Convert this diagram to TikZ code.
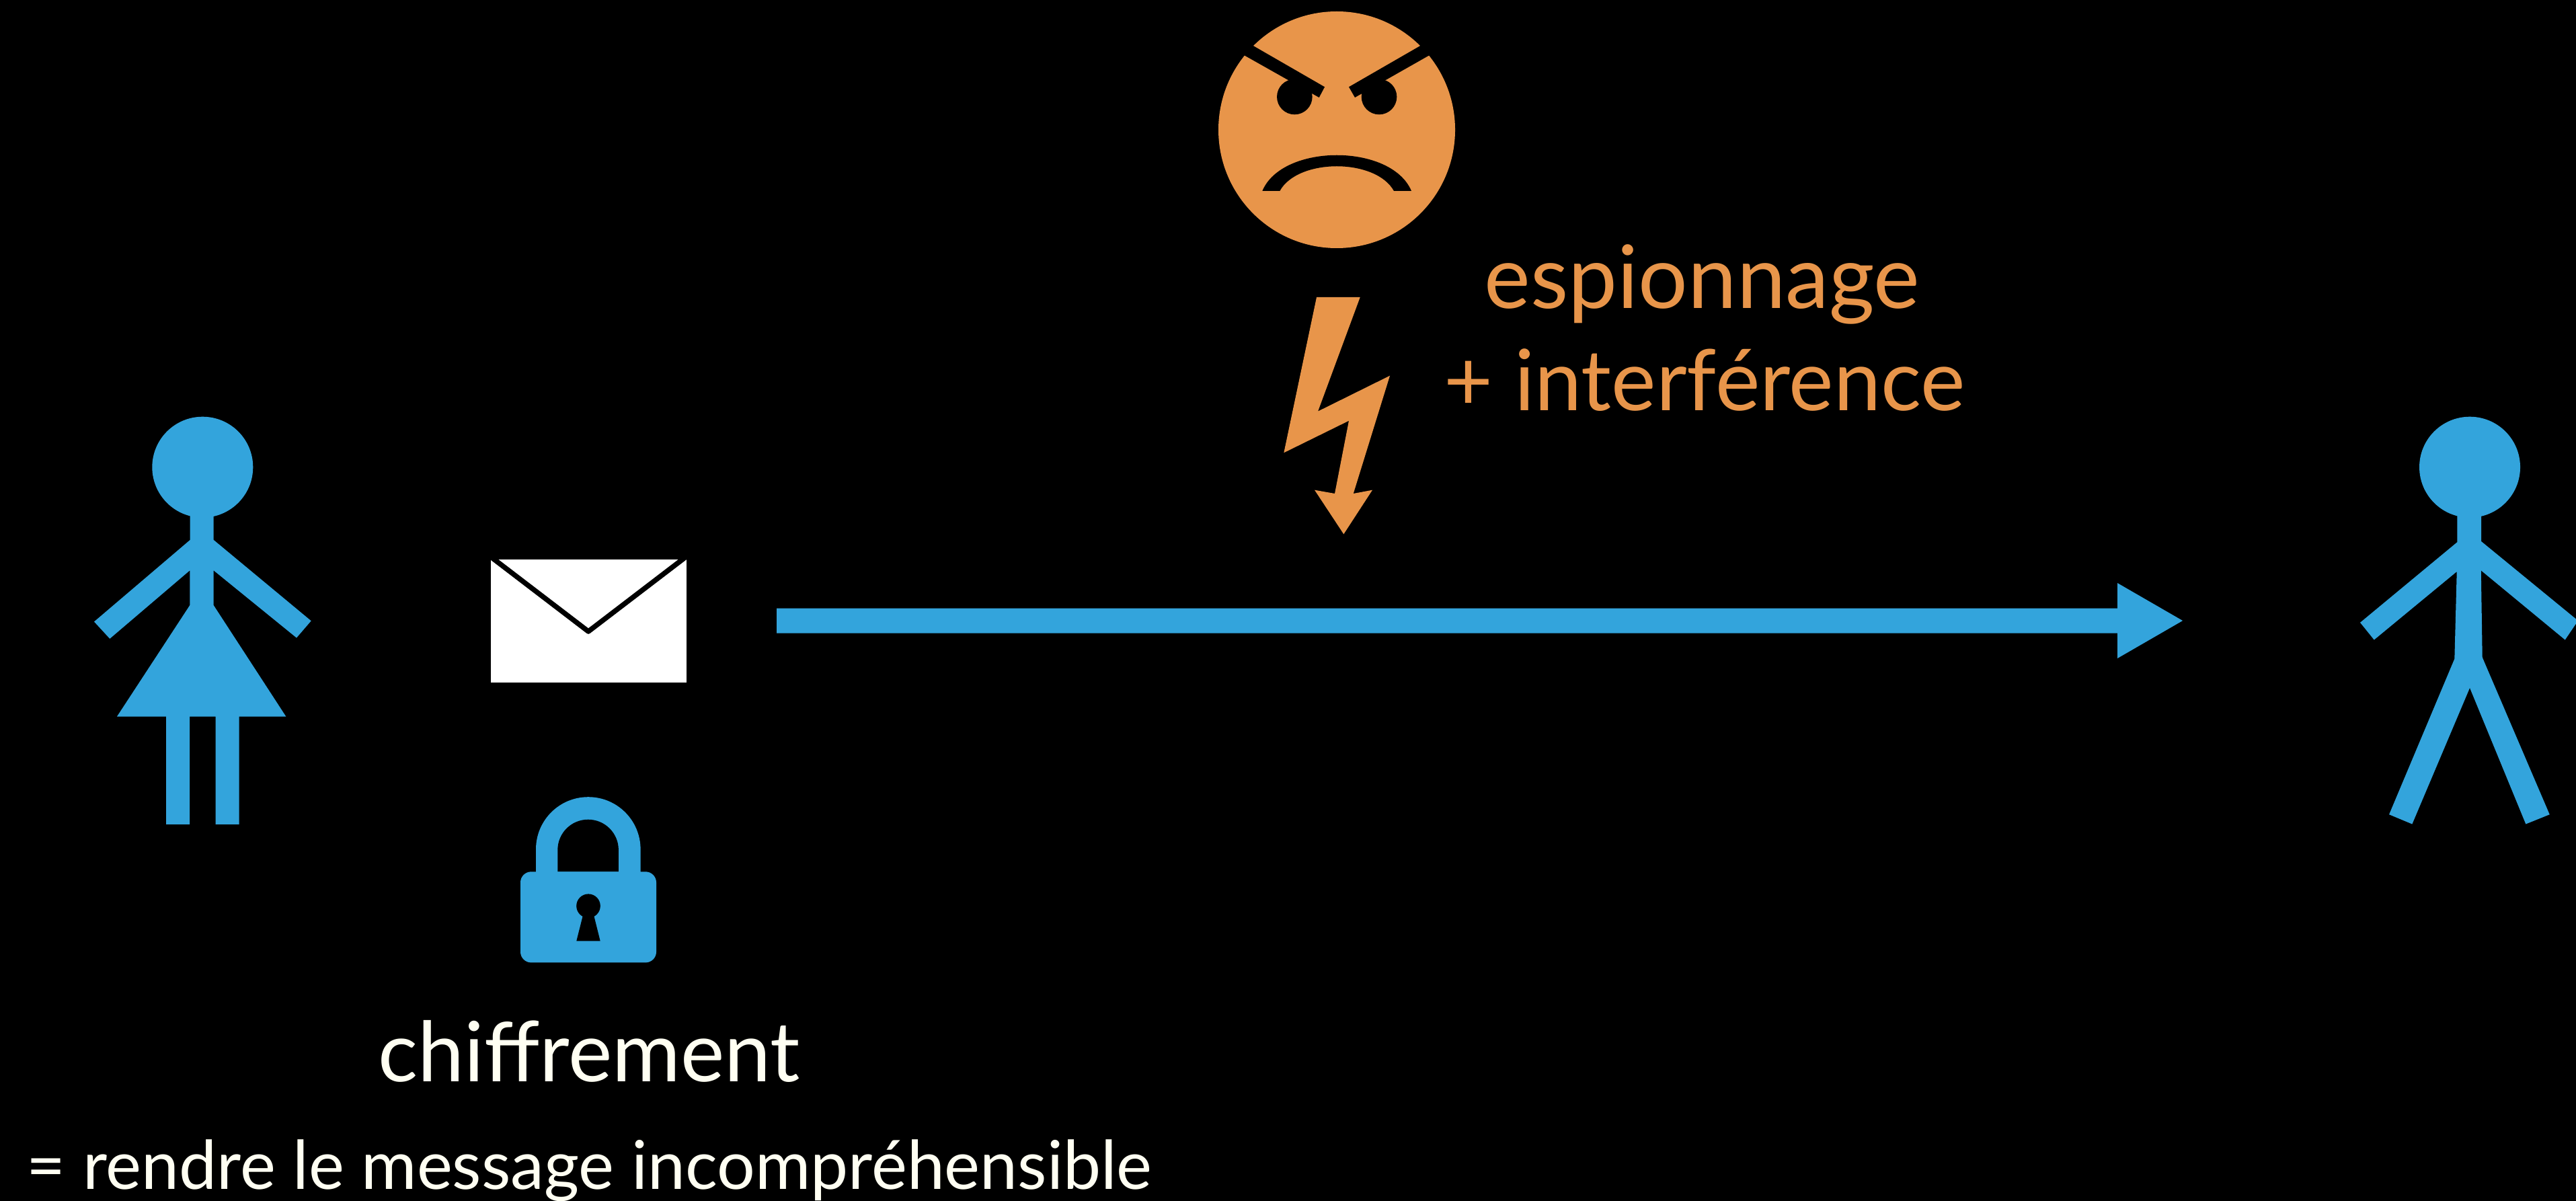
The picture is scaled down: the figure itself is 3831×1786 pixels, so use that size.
\documentclass[tikz,border=0pt]{standalone}
\usepackage{fontspec}
\setmainfont{Lato}
\usepackage{xcolor}
\definecolor{persongold}{HTML}{E8954A}
\definecolor{personblue}{HTML}{33A4DC}
\definecolor{cream}{HTML}{FFFFF2}
\usetikzlibrary{arrows.meta,positioning,calc}

\begin{document}
\begin{tikzpicture}[
        x=0.1mm, y=-0.1mm,
        person/.style = {fill=personblue},
        villain/.style = {fill=persongold},
        cut/.style = {fill=black},
        envelope/.style = {fill=white, inner sep=0pt, minimum width=29.1mm, minimum height=18.3mm},
        threat/.style = {text=persongold, inner sep=0pt, anchor=base, font=\fontsize{37}{37}\selectfont},
        caption/.style = {text=cream, inner sep=0pt, anchor=base, font=\fontsize{35.2}{35.2}\selectfont},
        gloss/.style = {text=cream, inner sep=0pt, anchor=base, font=\fontsize{28.5}{28.5}\selectfont},
        link/.style = {-{Triangle[length=9.7mm, width=11.2mm, line width=0pt]}, line width=3.7mm, personblue}
    ]
        \fill[black] (0,0) rectangle (3831,1786);
        \useasboundingbox (0,0) rectangle (3831,1786);

        % ---- Alice ----
        \fill[person] (301.3,694.7) circle[radius=7.5mm];
        \fill[person] (282.7,760) -- (317.7,760) -- (317.7,802.9) -- (462.7,923.3) -- (441,948.5)
            -- (317.7,848.3) -- (317.7,900.1) -- (425.3,1065.5) -- (355.7,1065.5) -- (355.7,1225.9)
            -- (320.7,1225.9) -- (320.7,1065.5) -- (282,1065.5) -- (282,1225.9) -- (247,1225.9)
            -- (247,1065.5) -- (174,1065.5) -- (282.3,900.1) -- (282.3,848.3) -- (163.3,949.8)
            -- (140,924.5) -- (282.7,802.9) -- cycle;

        % ---- Bob ----
        \fill[person] (3673,694.7) circle[radius=7.5mm];
        \fill[person] (3654.3,760) -- (3690,760) -- (3690,805) -- (3834,923) -- (3814.7,951.5)
            -- (3689.7,848.3) -- (3691.7,977.6) -- (3791.7,1211.2) -- (3756.3,1225.5) -- (3673,1023)
            -- (3587.3,1225.5) -- (3553,1211.2) -- (3650.3,979.7) -- (3653.7,850) -- (3530.7,951.5)
            -- (3510,925.8) -- (3654.3,806.2) -- cycle;
        \coordinate (bob) at (3510,923);

        % ---- Message ----
        \node[envelope] (msg) at (875.2,923.1) {};
        \draw[black, line width=0.75mm, line join=round] (728,826.6) -- (875,939) -- (1022,826.6);

        % ---- Lock ----
        \fill[person] (797,1300) -- (797,1263) arc[start angle=180, end angle=0, radius=7.78mm]
            -- (952.6,1300) -- cycle;
        \fill[cut] (829.3,1296.3) -- (829.3,1264) arc[start angle=180, end angle=0, radius=4.53mm]
            -- (919.9,1296.3) -- cycle;
        \fill[person, rounded corners=1.6mm] (774,1296.3) rectangle (976,1431.4);
        \fill[cut] (875,1347.2) circle[radius=1.78mm];
        \fill[cut] (867.7,1358) -- (882.3,1358) -- (892.7,1399.4) -- (857.3,1399.4) -- cycle;

        % ---- Spy ----
        \fill[villain] (1988,193) circle[radius=17.6mm];
        \fill[cut] (1855,63) -- (1970,129.3) -- (1961.7,145) -- (1842,77.5) -- cycle;
        \fill[cut] (2121,63) -- (2006,129.3) -- (2015,145) -- (2134,77.5) -- cycle;
        \fill[cut] (1925.3,144) circle[radius=2.63mm];
        \fill[cut] (2051,144) circle[radius=2.63mm];
        \fill[cut] (1877.3,284) .. controls (1907,213) and (2069,213) .. (2099,284) -- (2073,284)
            .. controls (2046,235) and (1930,235) .. (1903.3,284) -- cycle;

        % ---- Bolt ----
        \fill[villain] (1958,442) -- (2022.7,442) -- (1960,611.7) -- (2067,558.7) -- (2012.7,734)
            -- (2041,728.7) -- (1998.3,794.3) -- (1955,728.7) -- (1985,734) -- (2006,625.7)
            -- (1909.3,673.3) -- cycle;

        % ---- Labels ----
        \node[threat] (spy) at (2531.5,459) {espionnage};
        \node[threat, font=\fontsize{35.8}{35.8}\selectfont] (jam) at (2534.7,610.7) {+ interférence};
        \node[caption] (cap) at (876,1608.3) {chiffrement};
        \node[gloss] (def) at (876.5,1768) {= rendre le message incompréhensible};

        % ---- Links ----
        \draw[link, shorten <=13.36mm, shorten >=26.4mm] (msg.east) -- (bob);
    \end{tikzpicture}
\end{document}
